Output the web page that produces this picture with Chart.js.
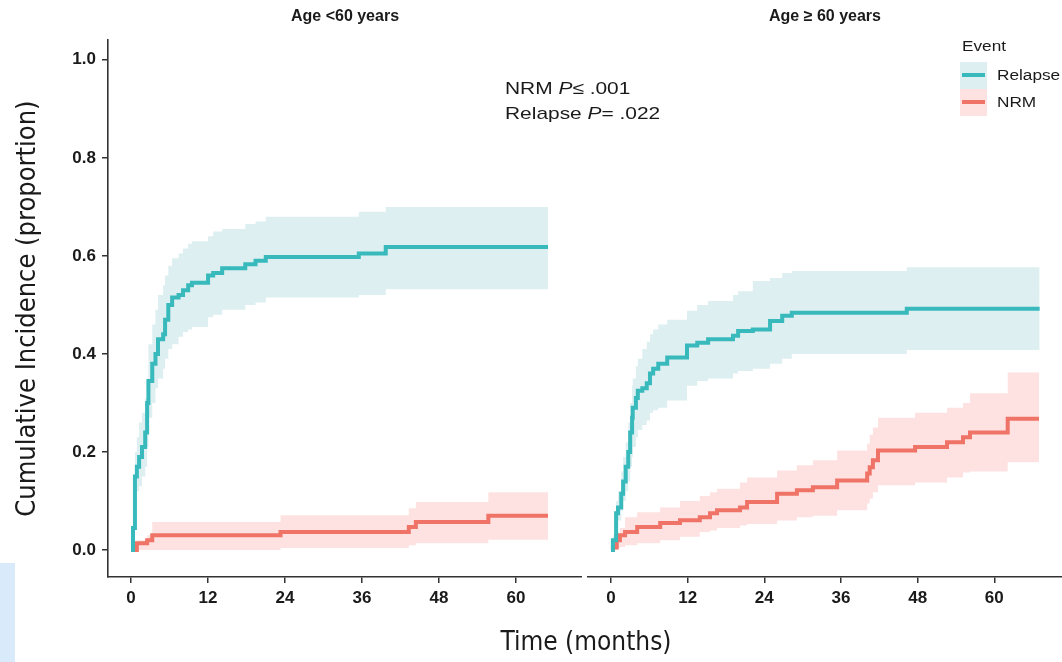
<!DOCTYPE html>
<html>
<head>
<meta charset="utf-8">
<title>Cumulative incidence by age</title>
<script src="https://cdn.jsdelivr.net/npm/chart.js@4.4.1/dist/chart.umd.min.js"></script>
<style>
    html, body { margin: 0; padding: 0; background: #fff; }
    #wrap { position: relative; width: 1062px; height: 662px; overflow: hidden;
            font-family: "Liberation Sans", Arial, sans-serif; color: #1a1a1a; }
    canvas { position: absolute; top: 0; }
    #leftChart { left: 0; }
    #rightChart { left: 582px; }
    .wide { display: inline-block; transform: scaleX(1.23); transform-origin: left center; white-space: nowrap; }
    #pvals { position: absolute; left: 505px; top: 76px; font-size: 17px; line-height: 25px; }
    #xtitle { position: absolute; left: 386px; width: 400px; top: 626px; text-align: center;
              font-family: "Liberation Sans Narrow", "DejaVu Sans Condensed", sans-serif; font-size: 26px; }
    #legend { position: absolute; left: 960px; top: 38px; font-size: 14px; }
    #legend .head { margin: 0 0 8px 2px; }
    #legend .row { position: relative; height: 27px; line-height: 27px; padding-left: 37px; }
    #legend .key { position: absolute; left: 0; top: 0; width: 27px; height: 27px; }
    #legend .key i { position: absolute; left: 2px; right: 2px; top: 11px; height: 4px; }
    #edge { position: absolute; left: 0; top: 563px; width: 15px; height: 99px; background: #d9eafa; }
</style>
</head>
<body>
<div id="wrap">
    <canvas id="leftChart" width="582" height="662"></canvas>
    <canvas id="rightChart" width="480" height="662"></canvas>
    <div id="pvals"><span class="wide">NRM <i>P</i>&le; .001</span><br><span class="wide">Relapse <i>P</i>= .022</span></div>
    <div id="xtitle">Time (months)</div>
    <div id="legend"></div>
    <div id="edge"></div>
</div>
<script>
// axis ticks
const X_TICKS = [0, 12, 24, 36, 48, 60];
const Y_TICKS = [0, 0.2, 0.4, 0.6, 0.8, 1.0];
const EVENTS = ['Relapse', 'NRM'];

// Age < 60: relapse (time in months, estimate, 95% CI)
const young_rel_t  = [0, 0.3, 0.6, 0.9, 1.25, 1.7, 2.2, 2.5, 2.7, 3.3, 3.8, 4.2, 5.0, 5.3, 5.8, 6.4, 7.4, 8.1, 8.9, 9.5, 12.0, 12.8, 14.2, 17.8, 19.4, 21.0, 35.5, 39.7, 65];
const young_rel    = [0, 0.045, 0.15, 0.17, 0.19, 0.21, 0.24, 0.30, 0.345, 0.38, 0.40, 0.43, 0.44, 0.47, 0.50, 0.515, 0.52, 0.53, 0.54, 0.545, 0.56, 0.565, 0.575, 0.583, 0.59, 0.598, 0.605, 0.618, 0.618];
const young_rel_lo = [0, 0.03, 0.10, 0.12, 0.13, 0.15, 0.17, 0.21, 0.27, 0.30, 0.33, 0.35, 0.37, 0.39, 0.41, 0.42, 0.435, 0.445, 0.45, 0.455, 0.475, 0.48, 0.49, 0.50, 0.505, 0.515, 0.52, 0.532, 0.532];
const young_rel_hi = [0, 0.07, 0.20, 0.23, 0.26, 0.28, 0.31, 0.35, 0.42, 0.46, 0.49, 0.52, 0.54, 0.56, 0.58, 0.595, 0.605, 0.615, 0.625, 0.63, 0.64, 0.65, 0.655, 0.665, 0.67, 0.68, 0.69, 0.70, 0.70];

// Age < 60: non-relapse mortality
const young_nrm_t  = [0, 0.9, 2.5, 3.3, 23.3, 43.3, 44.4, 55.7, 65];
const young_nrm    = [0, 0.014, 0.02, 0.03, 0.037, 0.047, 0.057, 0.07, 0.07];
const young_nrm_lo = [0, 0, 0, 0, 0.004, 0.01, 0.014, 0.021, 0.021];
const young_nrm_hi = [0, 0.02, 0.03, 0.057, 0.071, 0.085, 0.098, 0.118, 0.118];

// Age >= 60: relapse
const old_rel_t  = [0, 0.3, 0.8, 1.1, 1.6, 1.9, 2.3, 2.7, 3.0, 3.3, 3.4, 3.9, 4.2, 4.9, 5.6, 6.1, 6.6, 7.4, 8.8, 11.9, 13.5, 15.2, 19.1, 19.9, 22.2, 24.9, 26.8, 28.3, 46.3, 67.1];
const old_rel    = [0, 0.02, 0.075, 0.087, 0.115, 0.14, 0.17, 0.20, 0.24, 0.27, 0.29, 0.31, 0.325, 0.33, 0.34, 0.36, 0.37, 0.38, 0.393, 0.417, 0.423, 0.43, 0.437, 0.447, 0.45, 0.467, 0.478, 0.484, 0.492, 0.492];
const old_rel_lo = [0, 0.01, 0.05, 0.06, 0.08, 0.10, 0.12, 0.14, 0.17, 0.19, 0.21, 0.23, 0.245, 0.255, 0.264, 0.28, 0.285, 0.29, 0.305, 0.335, 0.345, 0.35, 0.36, 0.365, 0.37, 0.38, 0.39, 0.40, 0.408, 0.408];
const old_rel_hi = [0, 0.03, 0.10, 0.12, 0.16, 0.19, 0.22, 0.26, 0.30, 0.335, 0.35, 0.375, 0.39, 0.41, 0.425, 0.44, 0.45, 0.46, 0.47, 0.488, 0.50, 0.508, 0.52, 0.528, 0.549, 0.555, 0.565, 0.569, 0.577, 0.577];

// Age >= 60: non-relapse mortality
const old_nrm_t  = [0, 0.3, 0.9, 1.4, 2.2, 4.1, 7.7, 10.8, 13.9, 15.5, 16.6, 20.2, 21.3, 26.0, 29.1, 31.6, 35.4, 40.1, 40.5, 41.0, 41.8, 47.6, 52.6, 55.1, 56.2, 62.1, 67.0];
const old_nrm    = [0, 0.005, 0.02, 0.03, 0.037, 0.047, 0.055, 0.061, 0.067, 0.075, 0.081, 0.087, 0.098, 0.115, 0.122, 0.128, 0.142, 0.156, 0.169, 0.183, 0.203, 0.21, 0.22, 0.23, 0.24, 0.268, 0.268];
const old_nrm_lo = [0, 0, 0.004, 0.006, 0.01, 0.014, 0.02, 0.027, 0.037, 0.04, 0.045, 0.05, 0.053, 0.06, 0.067, 0.07, 0.081, 0.095, 0.105, 0.118, 0.132, 0.138, 0.148, 0.158, 0.16, 0.179, 0.179];
const old_nrm_hi = [0, 0.01, 0.035, 0.045, 0.067, 0.077, 0.087, 0.10, 0.11, 0.118, 0.125, 0.138, 0.148, 0.162, 0.173, 0.183, 0.203, 0.217, 0.235, 0.25, 0.27, 0.28, 0.29, 0.30, 0.32, 0.362, 0.362];

const COLORS = {
    Relapse: { line: '#38b9bc', band: '#ddeff0' },
    NRM:     { line: '#ef7367', band: '#fde2e1' }
};
const AXIS_COLOR = '#333';
const TICK_FONT = { family: '"Liberation Sans", Arial, sans-serif', size: 17, weight: 'bold' };

const pts = (t, v) => t.map((x, i) => ({ x, y: v[i] }));

function curveSets(name, t, est, lo, hi) {
    const c = COLORS[name];
    const base = { pointRadius: 0, stepped: 'before', tension: 0 };
    return {
        bands: [
            { ...base, label: name + ' upper', data: pts(t, hi), borderWidth: 0, backgroundColor: c.band, fill: '+1', order: 5 },
            { ...base, label: name + ' lower', data: pts(t, lo), borderWidth: 0, fill: false, order: 5 }
        ],
        line: { ...base, label: name, data: pts(t, est), borderColor: c.line, borderWidth: 4,
                fill: false, order: name === 'Relapse' ? 0 : 1 }
    };
}

function panelDatasets(rel, nrm) {
    return [...rel.bands, ...nrm.bands, nrm.line, rel.line];
}

function buildPanel(canvasId, title, datasets, showY) {
    return new Chart(document.getElementById(canvasId), {
        type: 'line',
        data: { datasets },
        options: {
            responsive: false,
            animation: false,
            layout: { padding: { left: showY ? 0 : 6, right: 0, top: 0, bottom: 0 } },
            plugins: {
                legend: { display: false },
                tooltip: { enabled: false },
                title: {
                    display: true, text: title, fullSize: false, color: '#1a1a1a',
                    font: { family: '"Liberation Sans", Arial, sans-serif', size: 16, weight: 'bold' },
                    padding: { top: 7, bottom: 14 }
                }
            },
            scales: {
                x: {
                    type: 'linear', min: -3.6, max: showY ? 70.3 : 70.6,
                    afterBuildTicks: s => { s.ticks = X_TICKS.map(v => ({ value: v })); },
                    afterFit: s => { s.height = 85; },
                    grid: { drawOnChartArea: false, color: AXIS_COLOR, lineWidth: 1.5, tickLength: 6 },
                    border: { color: AXIS_COLOR, width: 1.6 },
                    ticks: { color: '#1a1a1a', font: TICK_FONT, padding: 5, maxRotation: 0 }
                },
                y: {
                    display: showY,
                    min: -0.055, max: 1.04,
                    afterBuildTicks: s => { s.ticks = Y_TICKS.map(v => ({ value: v })); },
                    afterFit: s => { s.width = showY ? 108 : 0; },
                    grid: { drawOnChartArea: false, color: AXIS_COLOR, lineWidth: 1.5, tickLength: 6 },
                    border: { color: AXIS_COLOR, width: 1.6 },
                    ticks: { color: '#1a1a1a', font: TICK_FONT, padding: 6, callback: v => v.toFixed(1) },
                    title: {
                        display: true, text: 'Cumulative Incidence (proportion)', color: '#1a1a1a',
                        font: { family: '"Liberation Sans Narrow", "DejaVu Sans Condensed", sans-serif', size: 27 },
                        padding: { top: 12, bottom: 0 }
                    }
                }
            }
        }
    });
}

buildPanel('leftChart', 'Age <60 years', panelDatasets(
    curveSets('Relapse', young_rel_t, young_rel, young_rel_lo, young_rel_hi),
    curveSets('NRM', young_nrm_t, young_nrm, young_nrm_lo, young_nrm_hi)
), true);

buildPanel('rightChart', 'Age \u2265 60 years', panelDatasets(
    curveSets('Relapse', old_rel_t, old_rel, old_rel_lo, old_rel_hi),
    curveSets('NRM', old_nrm_t, old_nrm, old_nrm_lo, old_nrm_hi)
), false);

// legend: band swatch with the line through it
const legend = document.getElementById('legend');
legend.innerHTML = '<div class="head"><span class="wide">Event</span></div>' + EVENTS.map(name => `
    <div class="row">
        <span class="key" style="background:${COLORS[name].band}"><i style="background:${COLORS[name].line}"></i></span><span class="wide">${name}</span>
    </div>`).join('');
</script>
</body>
</html>
